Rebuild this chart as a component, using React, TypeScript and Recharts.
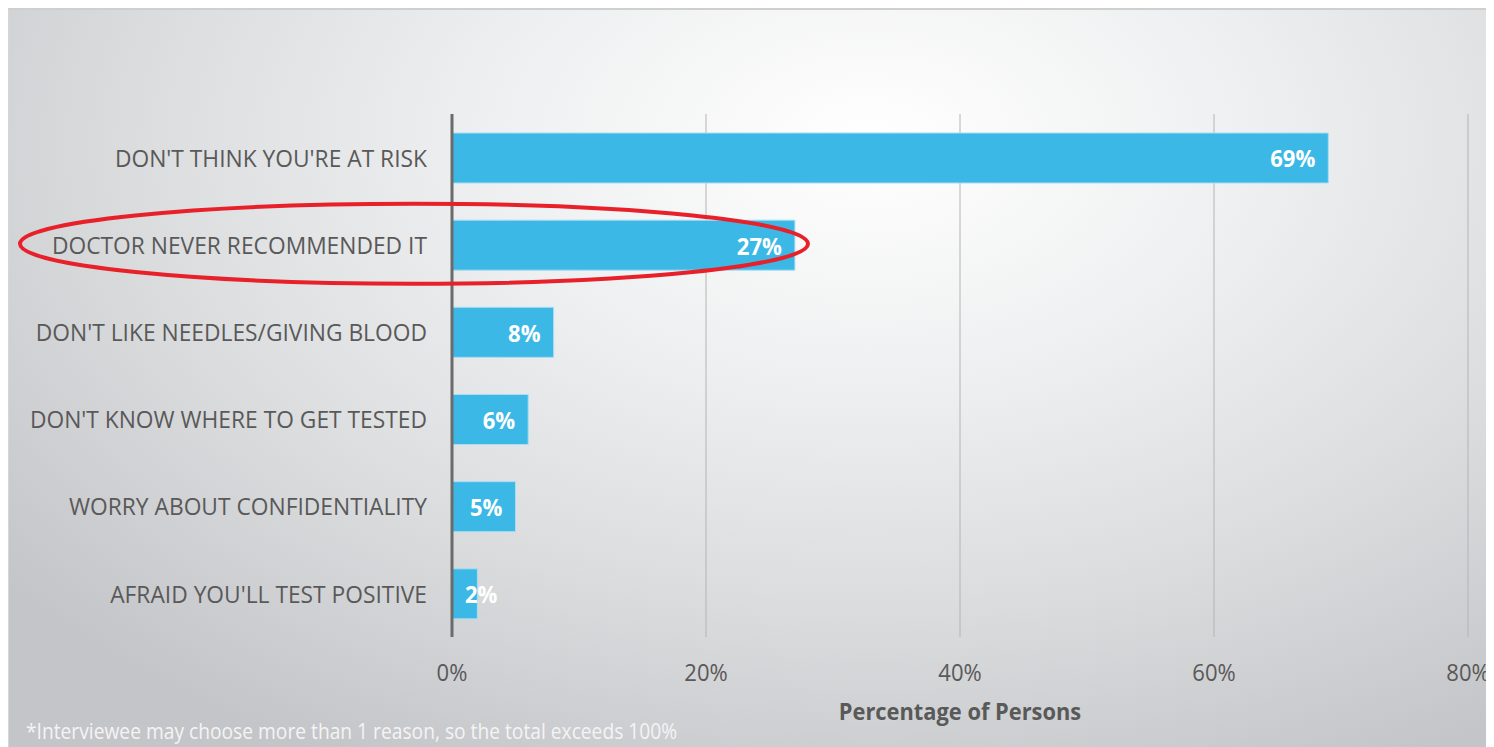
import React from 'react'
import {
  BarChart,
  Bar,
  XAxis,
  YAxis,
  CartesianGrid,
  LabelList,
  ReferenceDot,
} from 'recharts'

const reasons = [
  "DON'T THINK YOU'RE AT RISK",
  'DOCTOR NEVER RECOMMENDED IT',
  "DON'T LIKE NEEDLES/GIVING BLOOD",
  "DON'T KNOW WHERE TO GET TESTED",
  'WORRY ABOUT CONFIDENTIALITY',
  "AFRAID YOU'LL TEST POSITIVE",
]
const percents = [69, 27, 8, 6, 5, 2]
const xTicks = [0, 20, 40, 60, 80]
const highlighted = 'DOCTOR NEVER RECOMMENDED IT'

const data = reasons.map((reason, i) => ({ reason, value: percents[i] }))

const FONT = '"Open Sans", sans-serif'
const GRAY = '#595959'

// text in the source is a bit condensed, so squeeze it horizontally
const squeezed = (x: number, y: number, s: number) => `translate(${x},${y}) scale(${s},1)`

const CategoryTick = (props: any) => {
  const { x, y, payload } = props
  return (
    <g transform={squeezed(x - 25, y, 0.95)}>
      <text x={0} y={0} textAnchor="end" dominantBaseline="central" fill={GRAY} fontSize={24} fontFamily={FONT}>
        {payload.value}
      </text>
    </g>
  )
}

const PercentTick = (props: any) => {
  const { x, y, payload } = props
  return (
    <g transform={squeezed(x, y + 35, 0.92)}>
      <text x={0} y={0} textAnchor="middle" dominantBaseline="central" fill={GRAY} fontSize={24} fontFamily={FONT}>
        {`${payload.value}%`}
      </text>
    </g>
  )
}

const BarValue = (props: any) => {
  const { x, y, width, height, value } = props
  const label = `${value}%`
  const textW = label.length * 12.5
  const fits = width >= textW + 26
  const tx = fits ? x + width - 13 : x + 13
  return (
    <g transform={squeezed(tx, y + height / 2, 0.92)}>
      <text
        x={0}
        y={0}
        textAnchor={fits ? 'end' : 'start'}
        dominantBaseline="central"
        fill="#ffffff"
        fontSize={24}
        fontWeight={700}
        fontFamily={FONT}
      >
        {label}
      </text>
    </g>
  )
}

const AxisTitle = (props: any) => {
  const { viewBox } = props
  return (
    <g transform={squeezed(viewBox.x + viewBox.width / 2, viewBox.y + 74, 0.91)}>
      <text x={0} y={0} textAnchor="middle" dominantBaseline="central" fill={GRAY} fontSize={24} fontWeight={700} fontFamily={FONT}>
        Percentage of Persons
      </text>
    </g>
  )
}

const HighlightRing = (props: any) => {
  const { cx, cy } = props
  return <ellipse cx={cx - 38} cy={cy - 1} rx={394} ry={40} fill="none" stroke="#e8202a" strokeWidth={4} />
}

export default function App() {
  return (
    <div
      style={{
        position: 'relative',
        width: 1486,
        height: 739,
        boxSizing: 'border-box',
        borderTop: '2px solid #cfcfcf',
        borderLeft: '1px solid #d6d6d6',
        background: 'radial-gradient(ellipse 75% 95% at 58% 18%, #ffffff 0%, #eeeff0 35%, #dcdddf 65%, #c4c5c8 100%)',
        overflow: 'hidden',
      }}
    >
      <BarChart
        width={1486}
        height={739}
        data={data}
        layout="vertical"
        margin={{ top: 106, right: 26, bottom: 0, left: 0 }}
        style={{ position: 'absolute', left: -1, top: -2 }}
      >
        <CartesianGrid horizontal={false} vertical stroke="#b4b4b4" strokeWidth={1} />
        <XAxis
          type="number"
          domain={[0, 80]}
          ticks={xTicks}
          axisLine={false}
          tickLine={false}
          tickSize={0}
          tickMargin={0}
          height={110}
          tick={<PercentTick />}
          label={<AxisTitle />}
        />
        <YAxis
          type="category"
          dataKey="reason"
          width={444}
          axisLine={{ stroke: '#6b6b6b', strokeWidth: 3 }}
          tickLine={false}
          tickSize={0}
          tickMargin={0}
          tick={<CategoryTick />}
        />
        <Bar dataKey="value" fill="#3bb8e6" stroke="#a9ddf3" strokeWidth={1} barSize={50} isAnimationActive={false}>
          <LabelList dataKey="value" content={<BarValue />} />
        </Bar>
        <ReferenceDot x={0} y={highlighted} r={1} shape={<HighlightRing />} />
      </BarChart>
      <div
        style={{
          position: 'absolute',
          left: 17,
          top: 710,
          color: '#f4f4f4',
          fontFamily: FONT,
          fontSize: 21,
          lineHeight: '22px',
          whiteSpace: 'nowrap',
          transform: 'scaleX(0.915)',
          transformOrigin: 'left center',
        }}
      >
        *Interviewee may choose more than 1 reason, so the total exceeds 100%
      </div>
    </div>
  )
}
